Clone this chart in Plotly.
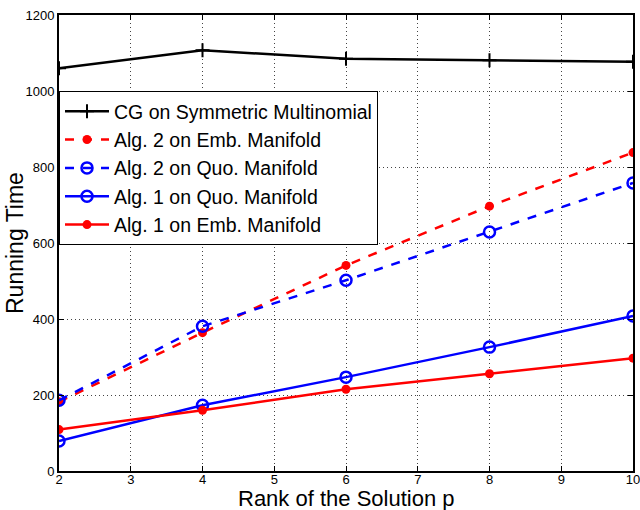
import plotly.graph_objects as go

ranks = [2, 4, 6, 8, 10]
cg_sym = [1060, 1107, 1085, 1081, 1077]
alg2_emb = [182, 364, 541, 697, 838]
alg2_quo = [186, 381, 502, 629, 758]
alg1_quo = [79, 173, 247, 326, 408]
alg1_emb = [109, 160, 215, 256, 297]

x_ticks = [2, 3, 4, 5, 6, 7, 8, 9, 10]
y_ticks = [0, 200, 400, 600, 800, 1000, 1200]

x_title = "Rank of the Solution p"
y_title = "Running Time"

fig = go.Figure()
fig.add_trace(go.Scatter(x=ranks, y=cg_sym, mode="lines+markers", name="CG on Symmetric Multinomial",
                         line=dict(color="black", width=2.5),
                         marker=dict(symbol="cross-thin", size=10, line=dict(color="black", width=2))))
fig.add_trace(go.Scatter(x=ranks, y=alg2_emb, mode="lines+markers", name="Alg. 2 on Emb. Manifold",
                         line=dict(color="#ff0000", width=2.5, dash="dash"),
                         marker=dict(symbol="circle", size=9, color="#ff0000")))
fig.add_trace(go.Scatter(x=ranks, y=alg2_quo, mode="lines+markers", name="Alg. 2 on Quo. Manifold",
                         line=dict(color="#0000ff", width=2.5, dash="dash"),
                         marker=dict(symbol="circle-open", size=11, color="#0000ff", line=dict(width=2.5))))
fig.add_trace(go.Scatter(x=ranks, y=alg1_quo, mode="lines+markers", name="Alg. 1 on Quo. Manifold",
                         line=dict(color="#0000ff", width=2.5),
                         marker=dict(symbol="circle-open", size=11, color="#0000ff", line=dict(width=2.5))))
fig.add_trace(go.Scatter(x=ranks, y=alg1_emb, mode="lines+markers", name="Alg. 1 on Emb. Manifold",
                         line=dict(color="#ff0000", width=2.5),
                         marker=dict(symbol="circle", size=9, color="#ff0000")))

axis_common = dict(showline=True, linecolor="black", linewidth=2, mirror="ticks",
                   ticks="inside", ticklen=5, tickcolor="black", tickwidth=1,
                   showgrid=True, gridcolor="#444444", griddash="1px,3px", gridwidth=1,
                   zeroline=False, automargin=False, ticklabeloverflow="allow",
                   tickfont=dict(size=13, color="black"))

fig.update_layout(
    width=640, height=510,
    margin=dict(l=59, r=7, t=15, b=39),
    plot_bgcolor="white", paper_bgcolor="white",
    font=dict(family="Liberation Sans, Arial, Helvetica, sans-serif", color="black"),
    xaxis=dict(range=[2, 10], tickvals=x_ticks, ticklabelstandoff=-5, **axis_common),
    yaxis=dict(range=[0, 1200], tickvals=y_ticks, **axis_common),
    legend=dict(x=0, y=1000/1200, xanchor="left", yanchor="top",
                bgcolor="white", bordercolor="black", borderwidth=1,
                font=dict(size=19.5, color="black"), itemwidth=44),
    showlegend=True,
    annotations=[
        dict(text=x_title, xref="paper", yref="paper", x=0.5, y=0, yshift=-42,
             xanchor="center", yanchor="bottom", showarrow=False,
             font=dict(size=22, color="black")),
        dict(text=y_title, xref="paper", yref="paper", x=0, xshift=-59, y=0.5,
             xanchor="left", yanchor="middle", textangle=-90, showarrow=False,
             font=dict(size=23, color="black")),
    ],
)

fig.write_html("out.html", config={"displayModeBar": False},
               post_script="document.body.style.margin='0';")
